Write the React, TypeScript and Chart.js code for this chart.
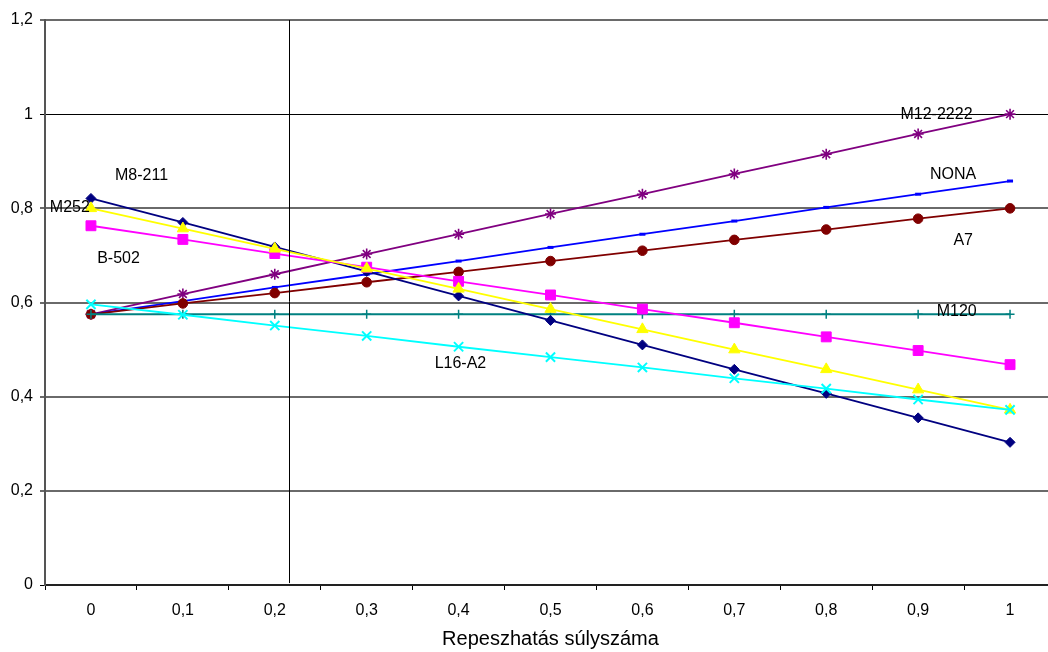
import React, { useEffect, useRef } from 'react';
import { Chart, registerables } from 'chart.js';

Chart.register(...registerables);

const CATEGORIES = ['0', '0,1', '0,2', '0,3', '0,4', '0,5', '0,6', '0,7', '0,8', '0,9', '1'];

const M8_211 = [0.821, 0.770, 0.718, 0.666, 0.614, 0.562, 0.510, 0.458, 0.407, 0.355, 0.303];
const M252 = [0.800, 0.757, 0.714, 0.672, 0.629, 0.586, 0.543, 0.500, 0.458, 0.415, 0.372];
const B_502 = [0.763, 0.734, 0.704, 0.675, 0.645, 0.616, 0.586, 0.557, 0.527, 0.498, 0.468];
const M12_2222 = [0.575, 0.618, 0.660, 0.703, 0.745, 0.788, 0.830, 0.873, 0.915, 0.958, 1.000];
const NONA = [0.575, 0.603, 0.632, 0.660, 0.688, 0.717, 0.745, 0.773, 0.802, 0.830, 0.858];
const A7 = [0.575, 0.598, 0.620, 0.643, 0.665, 0.688, 0.710, 0.733, 0.755, 0.778, 0.800];
const M120 = [0.575, 0.575, 0.575, 0.575, 0.575, 0.575, 0.575, 0.575, 0.575, 0.575, 0.575];
const L16_A2 = [0.596, 0.574, 0.551, 0.529, 0.506, 0.484, 0.462, 0.439, 0.417, 0.394, 0.372];

// free-floating series names (category-index position, value)
const LABEL_TEXTS = ['M8-211', 'M252', 'B-502', 'M12-2222', 'NONA', 'A7', 'M120', 'L16-A2'];
const LABEL_X = [0.55, -0.23, 0.30, 9.20, 9.38, 9.49, 9.42, 4.02];
const LABEL_Y = [0.869, 0.801, 0.693, 0.999, 0.871, 0.731, 0.580, 0.471];

// vertical marker line position (category index: 2.15 -> 0.215)
const MARKER_X = 2.15;
const MARKER_Y_TOP = 1.2;
const MARKER_Y_BOTTOM = 0.004;

const X_TITLE = 'Repeszhatás súlyszáma';
const Y_MIN = 0;
const Y_MAX = 1.2;
const Y_STEP = 0.2;

const FONT = 'Liberation Sans, Arial, Helvetica, sans-serif';

const labelsPlugin = {
  id: 'seriesLabels',
  afterDatasetsDraw(chart: any) {
    const { ctx, scales } = chart;
    const xs = scales.x;
    const ys = scales.y;
    ctx.save();
    const vx = Math.round(xs.getPixelForValue(MARKER_X)) + 0.5;
    ctx.strokeStyle = '#000';
    ctx.lineWidth = 1;
    ctx.beginPath();
    ctx.moveTo(vx, ys.getPixelForValue(MARKER_Y_TOP));
    ctx.lineTo(vx, ys.getPixelForValue(MARKER_Y_BOTTOM));
    ctx.stroke();
    ctx.fillStyle = '#000';
    ctx.font = `16px ${FONT}`;
    ctx.textAlign = 'center';
    ctx.textBaseline = 'middle';
    LABEL_TEXTS.forEach((t, i) => {
      ctx.fillText(t, xs.getPixelForValue(LABEL_X[i]), ys.getPixelForValue(LABEL_Y[i]));
    });
    ctx.restore();
  },
};

export default function App() {
  const ref = useRef<HTMLCanvasElement | null>(null);

  useEffect(() => {
    if (!ref.current) return;
    const mk = (label: string, data: number[], color: string, style: string, radius: number, bw = 1) => ({
      label,
      data,
      borderColor: color,
      backgroundColor: color,
      borderWidth: 1.8,
      pointStyle: style,
      pointRadius: radius,
      pointBorderWidth: bw,
      pointBorderColor: color,
      pointBackgroundColor: color,
      tension: 0,
    });
    const chart = new Chart(ref.current, {
      type: 'line',
      data: {
        labels: CATEGORIES,
        datasets: [
          mk('L16-A2', L16_A2, '#00FFFF', 'crossRot', 6.5, 2),
          mk('M252', M252, '#FFFF00', 'triangle', 6.5),
          mk('B-502', B_502, '#FF00FF', 'rect', 7),
          mk('M8-211', M8_211, '#000080', 'rectRot', 5),
          mk('M120', M120, '#008080', 'cross', 4.5, 1.5),
          mk('A7', A7, '#800000', 'circle', 4.8),
          mk('NONA', NONA, '#0000FF', 'line', 3, 3),
          mk('M12-2222', M12_2222, '#800080', 'star', 5.5, 1.6),
        ],
      },
      options: {
        responsive: false,
        animation: false,
        events: [],
        layout: { padding: { left: 0, right: 14, top: 20, bottom: 0 } },
        plugins: {
          legend: { display: false },
          tooltip: { enabled: false },
        },
        scales: {
          x: {
            type: 'category',
            offset: true,
            afterFit: (s: any) => { s.height = 67; },
            grid: {
              offset: true,
              drawOnChartArea: false,
              drawTicks: true,
              tickLength: 5,
              color: '#000',
              lineWidth: 1,
            },
            border: { color: '#222', width: 2 },
            ticks: {
              color: '#000',
              font: { family: FONT, size: 16 },
              padding: 11,
              maxRotation: 0,
              autoSkip: false,
            },
            title: {
              display: true,
              text: X_TITLE,
              color: '#000',
              font: { family: FONT, size: 20 },
              padding: { top: 0, bottom: 1 },
            },
          },
          y: {
            min: Y_MIN,
            max: Y_MAX,
            afterFit: (s: any) => { s.width = 45; },
            grid: {
              drawTicks: true,
              tickLength: 5,
              color: (c: any) => {
                const v = Math.round((c.tick ? c.tick.value : 0) * 10) / 10;
                return v === 1 || v === 0 ? '#000' : '#6a6a6a';
              },
              lineWidth: (c: any) => {
                const v = Math.round((c.tick ? c.tick.value : 0) * 10) / 10;
                return v === 1 || v === 0 ? 1 : 2;
              },
            },
            border: { color: '#555', width: 2 },
            ticks: {
              stepSize: Y_STEP,
              color: '#000',
              font: { family: FONT, size: 16 },
              padding: 7,
              callback: (v: any) => String(Math.round(Number(v) * 10) / 10).replace('.', ','),
            },
          },
        },
      },
      plugins: [labelsPlugin],
    } as any);
    return () => chart.destroy();
  }, []);

  return (
    <div style={{ position: 'fixed', left: 0, top: 0, width: 1048, height: 652, overflow: 'hidden', background: '#fff' }}>
      <canvas ref={ref} width={1070} height={652} style={{ display: 'block', width: 1070, height: 652 }} />
    </div>
  );
}
